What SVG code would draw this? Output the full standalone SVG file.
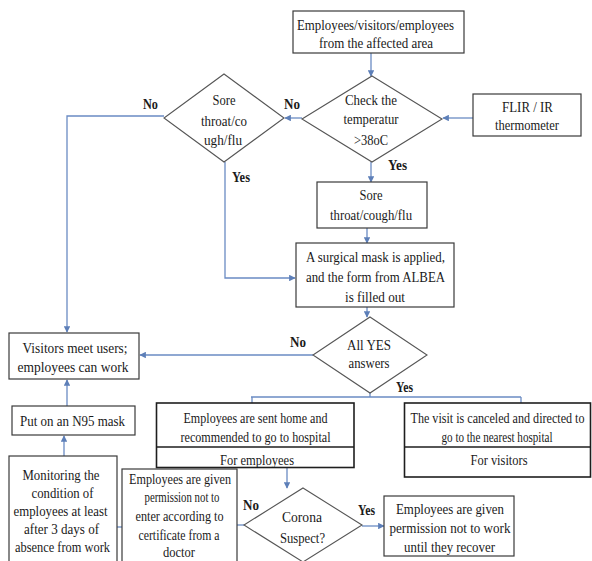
<svg xmlns="http://www.w3.org/2000/svg" width="592" height="561" viewBox="0 0 592 561">
  <defs>
    <marker id="arr" viewBox="0 0 10 10" refX="9" refY="5" markerWidth="5" markerHeight="5" orient="auto">
      <path d="M0,0 L10,5 L0,10 z" fill="#5d7fb8"/>
    </marker>
    <style>
      .box { fill: #ffffff; stroke: #3a3a3a; stroke-width: 1.2; }
      .box2 { fill: #ffffff; stroke: #1e1e1e; stroke-width: 1.6; }
      .dia { fill: #ffffff; stroke: #555555; stroke-width: 1.1; }
      .t { font-family: "Liberation Serif", "Times New Roman", serif; font-size: 15px; fill: #1a1a1a; text-anchor: middle; }
      .lb { font-family: "Liberation Serif", "Times New Roman", serif; font-size: 15px; font-weight: bold; fill: #1a1a1a; }
      .c { fill: none; stroke: #6a8bc3; stroke-width: 1.3; }
      .ca { fill: none; stroke: #6a8bc3; stroke-width: 1.3; marker-end: url(#arr); }
    </style>
  </defs>
  <rect width="592" height="561" fill="#ffffff"/>

  <!-- connectors -->
  <g id="connectors">
    <line class="ca" x1="371" y1="53" x2="371" y2="76"/>
    <line class="ca" x1="473" y1="118" x2="443" y2="118"/>
    <line class="ca" x1="302" y1="118" x2="285" y2="118"/>
    <polyline class="ca" points="164,116 67,116 67,332"/>
    <line class="ca" x1="371" y1="162" x2="371" y2="182"/>
    <polyline class="ca" points="225,162 225,278 295,278"/>
    <line class="ca" x1="367" y1="228" x2="367" y2="243"/>
    <line class="ca" x1="367" y1="307" x2="367" y2="317"/>
    <line class="ca" x1="313" y1="355" x2="140" y2="355"/>
    <line class="c" x1="370" y1="393" x2="370" y2="397"/>
    <line class="c" x1="251" y1="397" x2="521" y2="397"/>
    <line class="c" x1="252" y1="397" x2="252" y2="403"/>
    <line class="c" x1="521" y1="397" x2="521" y2="403"/>
    <line class="ca" x1="67" y1="406" x2="67" y2="380"/>
    <line class="ca" x1="64" y1="456" x2="64" y2="436"/>
    <line class="ca" x1="287" y1="468" x2="287" y2="488"/>
    <line class="c" x1="117" y1="527" x2="128" y2="527"/>
    <line class="c" x1="237" y1="525" x2="245" y2="525"/>
    <line class="ca" x1="362" y1="526" x2="384" y2="526"/>
  </g>

  <!-- start box -->
  <g id="n-start">
    <rect class="box" x="293" y="11" width="171" height="42"/>
    <text class="t" x="375.5" y="30" textLength="157" lengthAdjust="spacingAndGlyphs">Employees/visitors/employees</text>
    <text class="t" x="376" y="48" textLength="114" lengthAdjust="spacingAndGlyphs">from the affected area</text>
  </g>

  <!-- temperature check -->
  <g id="n-check">
    <polygon class="dia" points="372,76 442,119 372,162 302,119"/>
    <text class="t" x="371" y="105" textLength="52" lengthAdjust="spacingAndGlyphs">Check the</text>
    <text class="t" x="371" y="124" textLength="55" lengthAdjust="spacingAndGlyphs">temperatur</text>
    <text class="t" x="371" y="145" textLength="34" lengthAdjust="spacingAndGlyphs">&gt;38oC</text>
  </g>

  <!-- thermometer -->
  <g id="n-flir">
    <rect class="box" x="473" y="94" width="108" height="42"/>
    <text class="t" x="527.5" y="112" textLength="51" lengthAdjust="spacingAndGlyphs">FLIR / IR</text>
    <text class="t" x="527" y="130" textLength="64" lengthAdjust="spacingAndGlyphs">thermometer</text>
  </g>

  <!-- symptoms decision -->
  <g id="n-sore-dia">
    <polygon class="dia" points="224,74 284,118 224,162 164,118"/>
    <text class="t" x="224" y="105" textLength="23" lengthAdjust="spacingAndGlyphs">Sore</text>
    <text class="t" x="224" y="126" textLength="46" lengthAdjust="spacingAndGlyphs">throat/co</text>
    <text class="t" x="223" y="145" textLength="38" lengthAdjust="spacingAndGlyphs">ugh/flu</text>
  </g>

  <!-- symptoms box -->
  <g id="n-sore-box">
    <rect class="box" x="317" y="182" width="110" height="46"/>
    <text class="t" x="371" y="200" textLength="23" lengthAdjust="spacingAndGlyphs">Sore</text>
    <text class="t" x="371" y="220" textLength="82" lengthAdjust="spacingAndGlyphs">throat/cough/flu</text>
  </g>

  <!-- mask and form -->
  <g id="n-mask">
    <rect class="box" x="296" y="243" width="158" height="64"/>
    <text class="t" x="375.5" y="262" textLength="139" lengthAdjust="spacingAndGlyphs">A surgical mask is applied,</text>
    <text class="t" x="375.5" y="282" textLength="139" lengthAdjust="spacingAndGlyphs">and the form from ALBEA</text>
    <text class="t" x="375" y="302" textLength="60" lengthAdjust="spacingAndGlyphs">is filled out</text>
  </g>

  <!-- all yes decision -->
  <g id="n-allyes">
    <polygon class="dia" points="370,317 427,355 370,393 313,355"/>
    <text class="t" x="369" y="350" textLength="44" lengthAdjust="spacingAndGlyphs">All YES</text>
    <text class="t" x="369" y="368" textLength="41" lengthAdjust="spacingAndGlyphs">answers</text>
  </g>

  <!-- can work -->
  <g id="n-work">
    <rect class="box" x="9" y="333" width="130" height="46"/>
    <text class="t" x="75" y="353" textLength="105" lengthAdjust="spacingAndGlyphs">Visitors meet users;</text>
    <text class="t" x="73" y="372" textLength="111" lengthAdjust="spacingAndGlyphs">employees can work</text>
  </g>

  <!-- N95 mask -->
  <g id="n-n95">
    <rect class="box" x="12" y="406" width="123" height="29"/>
    <text class="t" x="72.5" y="426" textLength="105" lengthAdjust="spacingAndGlyphs">Put on an N95 mask</text>
  </g>

  <!-- employees sent home -->
  <g id="n-emp-home">
    <rect class="box2" x="156.5" y="403" width="197.5" height="64.5"/>
    <line class="box2" x1="156.5" y1="447" x2="354" y2="447"/>
    <text class="t" x="255.5" y="423" textLength="144" lengthAdjust="spacingAndGlyphs">Employees are sent home and</text>
    <text class="t" x="255.5" y="442" textLength="150" lengthAdjust="spacingAndGlyphs">recommended to go to hospital</text>
    <text class="t" x="257" y="465" textLength="74" lengthAdjust="spacingAndGlyphs">For employees</text>
  </g>

  <!-- visit canceled -->
  <g id="n-visit-cancel">
    <rect class="box2" x="404.5" y="403" width="186" height="74"/>
    <line class="box2" x1="404.5" y1="447" x2="590.5" y2="447"/>
    <text class="t" x="497.5" y="423" textLength="174" lengthAdjust="spacingAndGlyphs">The visit is canceled and directed to</text>
    <text class="t" x="497" y="442" textLength="111" lengthAdjust="spacingAndGlyphs">go to the nearest hospital</text>
    <text class="t" x="499" y="465" textLength="57" lengthAdjust="spacingAndGlyphs">For visitors</text>
  </g>

  <!-- monitoring -->
  <g id="n-monitor">
    <rect class="box" x="9" y="456" width="108" height="115"/>
    <text class="t" x="61" y="480" textLength="77" lengthAdjust="spacingAndGlyphs">Monitoring the</text>
    <text class="t" x="62.5" y="498" textLength="62" lengthAdjust="spacingAndGlyphs">condition of</text>
    <text class="t" x="60.5" y="516" textLength="94" lengthAdjust="spacingAndGlyphs">employees at least</text>
    <text class="t" x="61.5" y="534" textLength="75" lengthAdjust="spacingAndGlyphs">after 3 days of</text>
    <text class="t" x="62.5" y="552" textLength="95" lengthAdjust="spacingAndGlyphs">absence from work</text>
  </g>

  <!-- permission by certificate -->
  <g id="n-certificate">
    <rect class="box" x="122" y="469" width="115" height="102"/>
    <text class="t" x="180" y="484" textLength="102" lengthAdjust="spacingAndGlyphs">Employees are given</text>
    <text class="t" x="182" y="502" textLength="75" lengthAdjust="spacingAndGlyphs">permission not to</text>
    <text class="t" x="179.5" y="521" textLength="88" lengthAdjust="spacingAndGlyphs">enter according to</text>
    <text class="t" x="179" y="540" textLength="81" lengthAdjust="spacingAndGlyphs">certificate from a</text>
    <text class="t" x="179" y="557" textLength="32" lengthAdjust="spacingAndGlyphs">doctor</text>
  </g>

  <!-- corona decision -->
  <g id="n-corona">
    <polygon class="dia" points="303,488 362,525 303,562 244,525"/>
    <text class="t" x="302" y="522" textLength="40" lengthAdjust="spacingAndGlyphs">Corona</text>
    <text class="t" x="302.5" y="543" textLength="45" lengthAdjust="spacingAndGlyphs">Suspect?</text>
  </g>

  <!-- not to work until recovery -->
  <g id="n-recover">
    <rect class="box" x="384" y="496" width="130" height="60"/>
    <text class="t" x="450" y="514" textLength="108" lengthAdjust="spacingAndGlyphs">Employees are given</text>
    <text class="t" x="450" y="533" textLength="121" lengthAdjust="spacingAndGlyphs">permission not to work</text>
    <text class="t" x="449.5" y="552" textLength="91" lengthAdjust="spacingAndGlyphs">until they recover</text>
  </g>

  <!-- branch labels -->
  <g id="labels">
    <text class="lb" x="143" y="109" textLength="15" lengthAdjust="spacingAndGlyphs">No</text>
    <text class="lb" x="284" y="109" textLength="16" lengthAdjust="spacingAndGlyphs">No</text>
    <text class="lb" x="232" y="182" textLength="18" lengthAdjust="spacingAndGlyphs">Yes</text>
    <text class="lb" x="388" y="170" textLength="19" lengthAdjust="spacingAndGlyphs">Yes</text>
    <text class="lb" x="290" y="347" textLength="16" lengthAdjust="spacingAndGlyphs">No</text>
    <text class="lb" x="396" y="392" textLength="17" lengthAdjust="spacingAndGlyphs">Yes</text>
    <text class="lb" x="243" y="510" textLength="16" lengthAdjust="spacingAndGlyphs">No</text>
    <text class="lb" x="358" y="515" textLength="17" lengthAdjust="spacingAndGlyphs">Yes</text>
  </g>
</svg>
